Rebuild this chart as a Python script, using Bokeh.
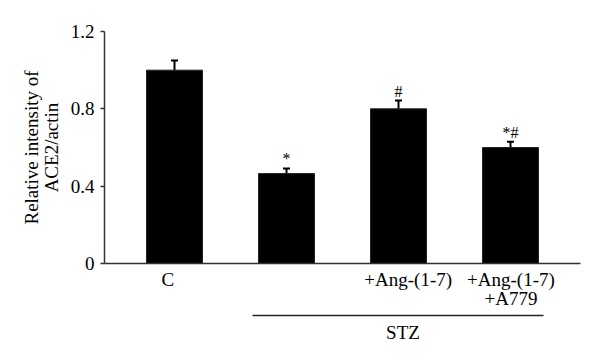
from bokeh.plotting import figure
from bokeh.models import Range1d, FixedTicker, LinearAxis, Whisker, TeeHead, ColumnDataSource
from bokeh.core.properties import value
from bokeh.embed import file_html
from bokeh.resources import INLINE

# Data
positions = [0, 1, 2, 3]
values = [1.0, 0.465, 0.80, 0.60]
errors = [0.05, 0.027, 0.043, 0.03]
marks = ["", "*", "#", "*#"]
x_labels = ["C", "", "+Ang-(1-7)", "+Ang-(1-7)\n+A779"]
y_ticks = [0, 0.4, 0.8, 1.2]
y_tick_labels = ["0", "0.4", "0.8", "1.2"]
group_label = "STZ"

FONT = "Liberation Serif"

# label placement tweaks (style): horizontal nudges of category labels, in category units
label_nudge = [-0.06, 0.0, 0.087, 0.004]
group_span = (0.696, 3.295)
group_center = 2.04

p = figure(width=592, height=356, output_backend="svg", toolbar_location=None,
           x_range=Range1d(-0.625, 3.625), y_range=Range1d(0, 1.2),
           min_border_left=104, min_border_right=12, min_border_top=31, min_border_bottom=93)
p.outline_line_color = None
p.xgrid.visible = False
p.ygrid.visible = False
p.background_fill_color = "white"
p.border_fill_color = "white"

src = ColumnDataSource(dict(x=positions, top=values,
                            upper=[v + e for v, e in zip(values, errors)],
                            mark=marks))

p.vbar(x="x", top="top", width=0.5, source=src, fill_color="black", line_color="#222222")

w = Whisker(base="x", lower="top", upper="upper", source=src, line_width=2, line_color="black",
            upper_head=TeeHead(size=7, line_width=2, line_color="black"), lower_head=None)
p.add_layout(w)

p.text(x="x", y="upper", text="mark", source=src, text_align="center", text_baseline="bottom",
       y_offset=-1, text_font=value(FONT), text_font_size="16px", text_color="black")

# y axis
yax = p.yaxis[0]
yax.ticker = FixedTicker(ticks=y_ticks)
yax.major_label_overrides = {t: l for t, l in zip(y_ticks, y_tick_labels)}
yax.major_label_text_font = FONT
yax.major_label_text_font_size = "19px"
yax.major_label_text_color = "black"
yax.major_tick_out = 4
yax.major_tick_in = 0
yax.minor_tick_line_color = None
yax.axis_line_color = "#333333"
yax.axis_line_width = 1.5
yax.major_tick_line_color = "#333333"
yax.major_tick_line_width = 1.5
yax.major_label_standoff = 6
yax.axis_label = "Relative intensity of\nACE2/actin"
yax.axis_label_text_font = FONT
yax.axis_label_text_font_size = "19px"
yax.axis_label_text_font_style = "normal"
yax.axis_label_text_color = "black"
yax.axis_label_text_line_height = 0.95
yax.axis_label_standoff = 6

# x axis: line + category labels
tick_pos = [x + d for x, d, t in zip(positions, label_nudge, x_labels) if t]
tick_txt = [t for t in x_labels if t]
xax = p.xaxis[0]
xax.ticker = FixedTicker(ticks=tick_pos)
xax.major_label_overrides = {x: t for x, t in zip(tick_pos, tick_txt)}
xax.major_label_text_font = FONT
xax.major_label_text_font_size = "19px"
xax.major_label_text_color = "black"
xax.major_label_text_line_height = 0.92
xax.major_label_standoff = 5
xax.major_tick_line_color = None
xax.major_tick_out = 0
xax.major_tick_in = 0
xax.minor_tick_line_color = None
xax.axis_line_color = "#333333"
xax.axis_line_width = 1.5
xax.axis_label = " "
xax.axis_label_text_font_size = "1px"
xax.axis_label_standoff = 0

# group axis (STZ underline)
gax = LinearAxis(bounds=group_span,
                 ticker=FixedTicker(ticks=[group_center]),
                 major_label_overrides={group_center: group_label})
gax.major_label_text_font = FONT
gax.major_label_text_font_size = "19px"
gax.major_label_text_color = "black"
gax.major_label_standoff = 6
gax.major_tick_line_color = None
gax.major_tick_out = 0
gax.major_tick_in = 0
gax.minor_tick_line_color = None
gax.axis_line_color = "#222222"
gax.axis_line_width = 1.3
p.add_layout(gax, "below")

open("out.html", "w").write(file_html(p, INLINE))
